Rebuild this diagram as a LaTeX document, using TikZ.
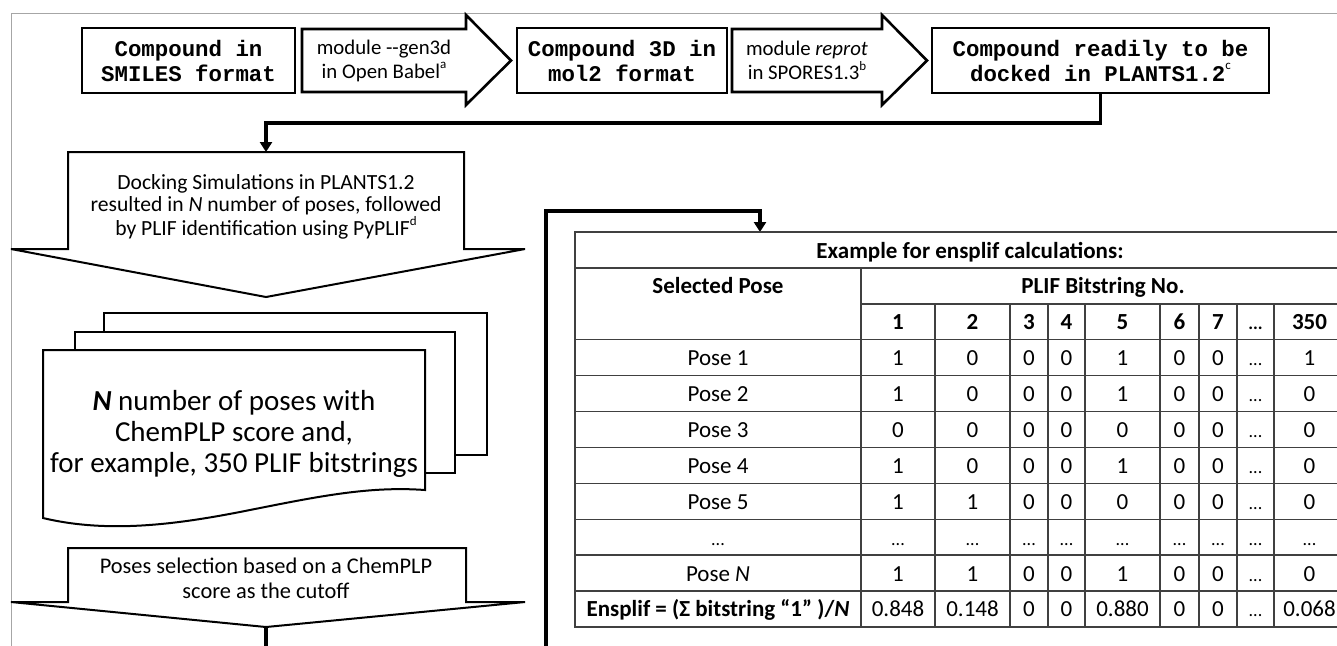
\documentclass[tikz,border=0pt]{standalone}
\usepackage{fontspec}
\setmainfont{Carlito}
\setmonofont{Liberation Mono}
\usetikzlibrary{positioning,calc,arrows.meta}
\newcommand{\supr}[1]{\raisebox{0.95ex}{\rmfamily\mdseries\fontsize{6.5}{6.5}\selectfont #1}}
\newcommand{\dotsx}{{\fontsize{9}{9}\selectfont...}}

\begin{document}
\begin{tikzpicture}[x=0.5pt, y=-0.5pt,
    every node/.style={outer sep=0pt, inner sep=0pt, align=center},
    mbox/.style={draw, line width=1.3pt, minimum height=32.5pt,
        font=\ttfamily\bfseries\fontsize{11.2}{12.5}\selectfont},
    barr/.style={minimum height=31.5pt, font=\fontsize{10.4}{12}\selectfont},
    blk/.style={draw, line width=1.3pt, line join=miter},
    conn/.style={draw, line width=1.6pt, -{Triangle[width=6pt,length=5pt]}},
    page/.style={draw, line width=1pt, fill=white},
    tabline/.style={draw, gray!50!black, line width=0.7pt},
    cell/.style={font=\fontsize{11.5}{13}\selectfont, text height=8pt, text depth=0pt}]

    \useasboundingbox (0,0) rectangle (1337,645);
    \clip (0,0) rectangle (1337,645);

    % frame of the figure
    \draw[gray!70, line width=0.5pt] (11,700) -- (11,13) -- (1400,13);

    % top row
    \node[mbox, minimum width=106.5pt] (smiles) at (188.5,60.5) {Compound in\\SMILES format};
    \node[barr, minimum width=82pt] (gen) at (384,60.5) {module -{}-gen3d\\in Open Babel\supr{a}};
    \node[mbox, minimum width=105pt] (mol) at (622,60.5) {Compound 3D in\\mol2 format};
    \node[barr, minimum width=75pt] (reprot) at (807,60.5) {module \textit{reprot}\\in SPORES1.3\supr{b}};
    \node[mbox, minimum width=168.5pt] (ready) at (1100.5,60.5)
        {Compound readily to be\\docked in PLANTS1.2\supr{c}};

    \foreach \n in {gen,reprot}
    {
        \draw[blk] (\n.north west) -- (\n.north east) -- ++(0,-14) -- ($(\n.east)+(45,0)$)
            -- ($(\n.south east)+(0,13)$) -- (\n.south east) -- (\n.south west) -- cycle;
    }

    % docking step
    \coordinate (docktop) at (266,152);
    \draw[blk, line width=1pt] (68,152) -- (464,152) -- (464,249) -- (525,249) -- (266,297)
        -- (11,249) -- (68,249) -- cycle;
    \node[font=\fontsize{10.8}{10.9}\selectfont] (dock) at (266,207)
        {Docking Simulations in PLANTS1.2\\resulted in \textit{N} number of poses, followed\\by PLIF identification using PyPLIF\supr{d}};
    \draw[conn] (ready.south) -- ++(0,30) -| (docktop);

    % stack of poses
    \draw[page] (104,332) -- (104,313) -- (487,313) -- (487,455) -- (455,455);
    \draw[page] (75,350) -- (75,332) -- (455,332) -- (455,473) -- (425,473);
    \draw[page] (43,350) -- (425,350) -- (425,490) .. controls (370,486) and (320,496) .. (250,510)
        .. controls (180,524) and (110,534) .. (43,518) -- cycle;
    \node[font=\fontsize{14.5}{15.5}\selectfont] (poses) at (234,434)
        {\textbf{\textit{N}} number of poses with\\ChemPLP score and,\\for example, 350 PLIF bitstrings};

    % selection step
    \coordinate (seltip) at (266,627);
    \draw[blk, line width=1pt] (68,548) -- (466,548) -- (466,602) -- (525,602) -- (seltip)
        -- (11,602) -- (68,602) -- cycle;
    \node[font=\fontsize{11.2}{12.5}\selectfont] (sel) at (266,578)
        {Poses selection based on a ChemPLP\\score as the cutoff};

    % table
    \coordinate (tabin) at (760,232);
    \draw[conn] (seltip) -- ++(0,60) -- ++(280,0) -- ++(0,-476) -| (tabin);

    \draw[tabline] (575,232) rectangle (1345,627);
    \draw[tabline] (575,267.9) -- (1345,267.9);
    \draw[tabline] (861,303.8) -- (1345,303.8);
    \foreach \r in {3,...,10}
        \draw[tabline] (575,{232+\r*35.9}) -- (1345,{232+\r*35.9});
    \draw[tabline] (861,267.9) -- (861,627);
    \foreach \x in {935,1010,1048,1085,1160,1199,1237,1274}
        \draw[tabline] (\x,303.8) -- (\x,627);

    \def\colx{{898,972.5,1029,1066.5,1122.5,1179.5,1218,1255.5,1309.5}}
    \node[cell] (title) at (970,250) {\bfseries Example for ensplif calculations:};
    \node[cell] (selpose) at (718,285.9) {\bfseries Selected Pose};
    \node[cell] (plif) at (1103,285.9) {\bfseries PLIF Bitstring No.};
    \foreach \v [count=\j] in {1,2,3,4,5,6,7,\dotsx,350}
    {
        \pgfmathsetmacro\cx{\colx[\j-1]}
        \node[cell] (c2-\j) at (\cx,321.8) {\bfseries\v};
    }
    \foreach \r/\name/\vals in {3/Pose 1/{1,0,0,0,1,0,0,\dotsx,1},
        4/Pose 2/{1,0,0,0,1,0,0,\dotsx,0},
        5/Pose 3/{0,0,0,0,0,0,0,\dotsx,0},
        6/Pose 4/{1,0,0,0,1,0,0,\dotsx,0},
        7/Pose 5/{1,1,0,0,0,0,0,\dotsx,0},
        8/\dotsx/{\dotsx,\dotsx,\dotsx,\dotsx,\dotsx,\dotsx,\dotsx,\dotsx,\dotsx},
        9/{Pose \textit{N}}/{1,1,0,0,1,0,0,\dotsx,0},
        10/{\bfseries Ensplif = (Σ bitstring “1” )/\textit{N}}/{0.848,0.148,0,0,0.880,0,0,\dotsx,0.068}}
    {
        \pgfmathsetmacro\ry{232+(\r+0.5)*35.9}
        \node[cell] (pose\r) at (718,\ry) {\name};
        \foreach \v [count=\j] in \vals
        {
            \pgfmathsetmacro\cx{\colx[\j-1]}
            \node[cell] (c\r-\j) at (\cx,\ry) {\v};
        }
    }

\end{tikzpicture}
\end{document}
